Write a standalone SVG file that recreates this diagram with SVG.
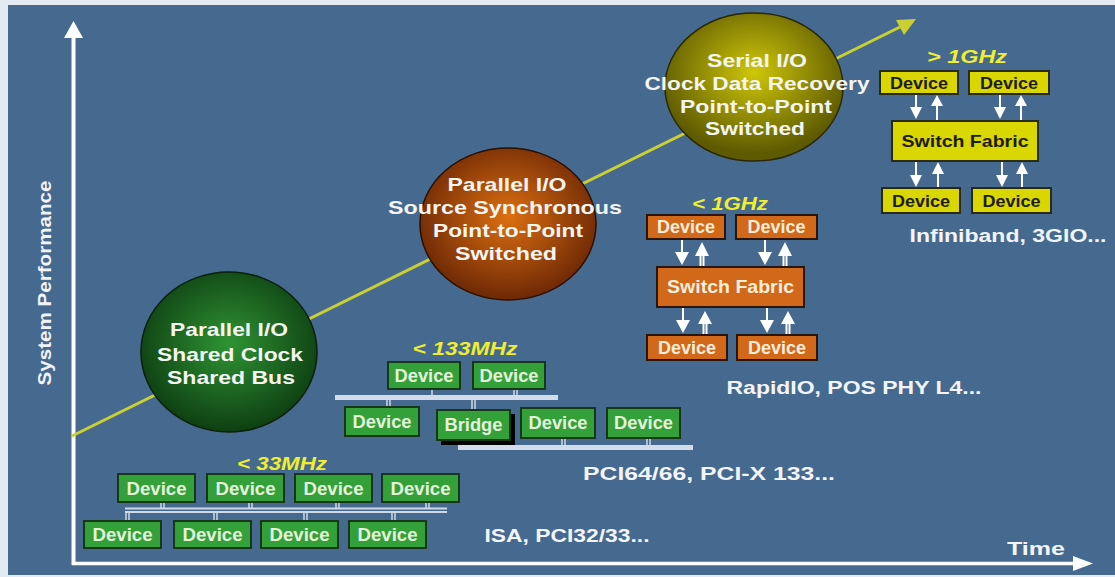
<svg xmlns="http://www.w3.org/2000/svg" width="1115" height="577" viewBox="0 0 1115 577">
<defs>
<radialGradient id="gGreen" cx="0.5" cy="0.45" r="0.55">
<stop offset="0" stop-color="#2f9434"/><stop offset="1" stop-color="#0e3f12"/>
</radialGradient>
<radialGradient id="gOrange" cx="0.5" cy="0.45" r="0.55">
<stop offset="0" stop-color="#dc6f12"/><stop offset="1" stop-color="#6e2805"/>
</radialGradient>
<radialGradient id="gOlive" cx="0.5" cy="0.4" r="0.55">
<stop offset="0" stop-color="#cfc70a"/><stop offset="1" stop-color="#5e5a02"/>
</radialGradient>
<style>
.t{font-family:"Liberation Sans",Arial,sans-serif;font-weight:bold;text-anchor:middle}
.ct{font-size:19px;fill:#f4f4f0}
.lab{font-size:18px;fill:#f2f4f8}
.mhz{font-size:18px;fill:#f0ee30;font-style:italic}
.gb{fill:#33a03a;stroke:#163816;stroke-width:2}
.ob{fill:#d2691a;stroke:#2a1505;stroke-width:2}
.yb{fill:#dad600;stroke:#2a2a10;stroke-width:2}
.gt{font-size:18px;fill:#e4f2dc}
.ot{font-size:17.5px;fill:#fbeedc}
.yt{font-size:17px;fill:#1c1c10}
.bus{fill:none;stroke:#cfd9e8;stroke-width:2}
.tick{stroke:#cfd9e8;stroke-width:1.5}
.aw{stroke:#ffffff;stroke-width:2;fill:none}
.ah{fill:#ffffff}
</style>
</defs>
<rect x="0" y="0" width="1115" height="577" fill="#e4eaf1"/>
<rect x="8" y="5" width="1107" height="570" fill="#46698f"/>

<g id="axes">
<line x1="73.5" y1="36" x2="73.5" y2="565" stroke="#ffffff" stroke-width="4"/>
<polygon points="64,38 83,38 73.5,21" fill="#ffffff"/>
<line x1="72" y1="563.5" x2="1076" y2="563.5" stroke="#ffffff" stroke-width="3.5"/>
<polygon points="1073,556 1073,571 1093,563.5" fill="#ffffff"/>
<text class="t" x="0" y="0" font-size="19" fill="#f2f4f8" transform="translate(51,283) rotate(-90)" textLength="205" lengthAdjust="spacingAndGlyphs">System Performance</text>
<text class="t" x="1036" y="555" font-size="19" fill="#f2f4f8" textLength="58" lengthAdjust="spacingAndGlyphs">Time</text>
</g>

<g id="connectors">
<line x1="72" y1="436" x2="900" y2="27" stroke="#cbcf34" stroke-width="3"/>
<polygon points="916,19 896,20 904,35" fill="#cbcf34"/>
<line class="bus" x1="125" y1="508.5" x2="447" y2="508.5"/>
<line class="bus" x1="125" y1="512" x2="447" y2="512"/>
<g class="tick">
<line x1="161" y1="502" x2="161" y2="508"/><line x1="164" y1="502" x2="164" y2="508"/>
<line x1="249" y1="502" x2="249" y2="508"/><line x1="252" y1="502" x2="252" y2="508"/>
<line x1="336" y1="502" x2="336" y2="508"/><line x1="339" y1="502" x2="339" y2="508"/>
<line x1="426" y1="502" x2="426" y2="508"/><line x1="429" y1="502" x2="429" y2="508"/>
<line x1="126" y1="512" x2="126" y2="521"/><line x1="129" y1="512" x2="129" y2="521"/>
<line x1="214" y1="512" x2="214" y2="521"/><line x1="217" y1="512" x2="217" y2="521"/>
<line x1="304" y1="512" x2="304" y2="521"/><line x1="307" y1="512" x2="307" y2="521"/>
<line x1="392" y1="512" x2="392" y2="521"/><line x1="395" y1="512" x2="395" y2="521"/>
</g>
<rect x="335" y="395" width="223" height="5" fill="#d3dcea"/>
<rect x="458" y="445" width="235" height="5" fill="#d3dcea"/>
<g class="tick">
<line x1="432" y1="389" x2="432" y2="395"/>
<line x1="514" y1="389" x2="514" y2="395"/><line x1="517" y1="389" x2="517" y2="395"/>
<line x1="387" y1="400" x2="387" y2="407"/><line x1="390" y1="400" x2="390" y2="407"/>
<line x1="472" y1="400" x2="472" y2="410"/><line x1="475" y1="400" x2="475" y2="410"/>
<line x1="468" y1="440" x2="468" y2="445"/>
<line x1="562" y1="438" x2="562" y2="445"/><line x1="565" y1="438" x2="565" y2="445"/>
<line x1="647" y1="438" x2="647" y2="445"/><line x1="650" y1="438" x2="650" y2="445"/>
</g>
<g>
<line class="aw" x1="682" y1="239" x2="682" y2="253"/><polygon class="ah" points="675,252 689,252 682,265"/>
<line class="aw" x1="700.5" y1="255" x2="700.5" y2="267" stroke-width="1.5"/><line class="aw" x1="703.5" y1="255" x2="703.5" y2="267" stroke-width="1.5"/><polygon class="ah" points="695,256 709,256 702,242"/>
<line class="aw" x1="765" y1="239" x2="765" y2="253"/><polygon class="ah" points="758,252 772,252 765,265"/>
<line class="aw" x1="783.5" y1="255" x2="783.5" y2="267" stroke-width="1.5"/><line class="aw" x1="786.5" y1="255" x2="786.5" y2="267" stroke-width="1.5"/><polygon class="ah" points="778,256 792,256 785,242"/>
<line class="aw" x1="683" y1="307" x2="683" y2="321"/><polygon class="ah" points="676,320 690,320 683,333"/>
<line class="aw" x1="703.5" y1="323" x2="703.5" y2="335" stroke-width="1.5"/><line class="aw" x1="706.5" y1="323" x2="706.5" y2="335" stroke-width="1.5"/><polygon class="ah" points="698,324 712,324 705,311"/>
<line class="aw" x1="767" y1="307" x2="767" y2="321"/><polygon class="ah" points="760,320 774,320 767,333"/>
<line class="aw" x1="786.5" y1="323" x2="786.5" y2="335" stroke-width="1.5"/><line class="aw" x1="789.5" y1="323" x2="789.5" y2="335" stroke-width="1.5"/><polygon class="ah" points="781,324 795,324 788,311"/>
</g>
<g>
<line class="aw" x1="916" y1="94" x2="916" y2="108" stroke-width="1.5"/><polygon class="ah" points="910,107 922,107 916,119"/>
<line class="aw" x1="937" y1="105" x2="937" y2="121" stroke-width="1.5"/><polygon class="ah" points="931,106 943,106 937,95"/>
<line class="aw" x1="1000" y1="94" x2="1000" y2="108" stroke-width="1.5"/><polygon class="ah" points="994,107 1006,107 1000,119"/>
<line class="aw" x1="1021" y1="105" x2="1021" y2="121" stroke-width="1.5"/><polygon class="ah" points="1015,106 1027,106 1021,95"/>
<line class="aw" x1="916" y1="161" x2="916" y2="176" stroke-width="1.5"/><polygon class="ah" points="910,175 922,175 916,187"/>
<line class="aw" x1="938" y1="173" x2="938" y2="188" stroke-width="1.5"/><polygon class="ah" points="932,174 944,174 938,162"/>
<line class="aw" x1="1002" y1="161" x2="1002" y2="176" stroke-width="1.5"/><polygon class="ah" points="996,175 1008,175 1002,187"/>
<line class="aw" x1="1022" y1="173" x2="1022" y2="188" stroke-width="1.5"/><polygon class="ah" points="1016,174 1028,174 1022,162"/>
</g>
</g>

<g id="circle-green">
<ellipse cx="229" cy="352" rx="88" ry="80" fill="url(#gGreen)" stroke="#0a200a" stroke-width="1.5"/>
<text class="t ct" x="229" y="336" textLength="118" lengthAdjust="spacingAndGlyphs">Parallel I/O</text>
<text class="t ct" x="230" y="361" textLength="146" lengthAdjust="spacingAndGlyphs">Shared Clock</text>
<text class="t ct" x="231" y="384" textLength="128" lengthAdjust="spacingAndGlyphs">Shared Bus</text>
</g>

<g id="circle-orange">
<ellipse cx="508" cy="224" rx="88" ry="76" fill="url(#gOrange)" stroke="#2a1000" stroke-width="1.5"/>
<text class="t ct" x="507" y="191" textLength="119" lengthAdjust="spacingAndGlyphs">Parallel I/O</text>
<text class="t ct" x="505" y="214" textLength="234" lengthAdjust="spacingAndGlyphs">Source Synchronous</text>
<text class="t ct" x="508" y="237" textLength="150" lengthAdjust="spacingAndGlyphs">Point-to-Point</text>
<text class="t ct" x="506" y="260" textLength="102" lengthAdjust="spacingAndGlyphs">Switched</text>
</g>

<g id="circle-olive">
<ellipse cx="754" cy="87" rx="89" ry="74" fill="url(#gOlive)" stroke="#2a2800" stroke-width="1.5"/>
<text class="t ct" x="757" y="67" textLength="100" lengthAdjust="spacingAndGlyphs">Serial I/O</text>
<text class="t ct" x="757" y="90" textLength="225" lengthAdjust="spacingAndGlyphs">Clock Data Recovery</text>
<text class="t ct" x="756" y="113" textLength="152" lengthAdjust="spacingAndGlyphs">Point-to-Point</text>
<text class="t ct" x="755" y="135" textLength="100" lengthAdjust="spacingAndGlyphs">Switched</text>
</g>

<g id="cluster-33mhz">
<text class="t mhz" x="282" y="470" textLength="90" lengthAdjust="spacingAndGlyphs">&lt; 33MHz</text>
<rect class="gb" x="118" y="474" width="77" height="28"/><text class="t gt" x="156.5" y="494.5" textLength="60" lengthAdjust="spacingAndGlyphs">Device</text>
<rect class="gb" x="207" y="474" width="77" height="28"/><text class="t gt" x="245.5" y="494.5" textLength="60" lengthAdjust="spacingAndGlyphs">Device</text>
<rect class="gb" x="295" y="474" width="77" height="28"/><text class="t gt" x="333.5" y="494.5" textLength="60" lengthAdjust="spacingAndGlyphs">Device</text>
<rect class="gb" x="382" y="474" width="77" height="28"/><text class="t gt" x="420.5" y="494.5" textLength="60" lengthAdjust="spacingAndGlyphs">Device</text>
<rect class="gb" x="84" y="521" width="77" height="27"/><text class="t gt" x="122.5" y="541" textLength="60" lengthAdjust="spacingAndGlyphs">Device</text>
<rect class="gb" x="174" y="521" width="77" height="27"/><text class="t gt" x="212.5" y="541" textLength="60" lengthAdjust="spacingAndGlyphs">Device</text>
<rect class="gb" x="261" y="521" width="77" height="27"/><text class="t gt" x="299.5" y="541" textLength="60" lengthAdjust="spacingAndGlyphs">Device</text>
<rect class="gb" x="349" y="521" width="77" height="27"/><text class="t gt" x="387.5" y="541" textLength="60" lengthAdjust="spacingAndGlyphs">Device</text>
<text class="t lab" x="567" y="542" textLength="165" lengthAdjust="spacingAndGlyphs">ISA, PCI32/33...</text>
</g>

<g id="cluster-133mhz">
<text class="t mhz" x="465" y="355" textLength="105" lengthAdjust="spacingAndGlyphs">&lt; 133MHz</text>
<rect class="gb" x="388" y="362" width="72" height="27"/><text class="t gt" x="424" y="382" textLength="59" lengthAdjust="spacingAndGlyphs">Device</text>
<rect class="gb" x="473" y="362" width="72" height="27"/><text class="t gt" x="509" y="382" textLength="59" lengthAdjust="spacingAndGlyphs">Device</text>
<rect class="gb" x="345" y="407" width="74" height="29"/><text class="t gt" x="382" y="428" textLength="59" lengthAdjust="spacingAndGlyphs">Device</text>
<rect x="441" y="414" width="74" height="31" fill="#000000"/>
<rect class="gb" x="437" y="410" width="73" height="30"/><text class="t gt" x="473.5" y="431" fill="#f4f8f0" textLength="58" lengthAdjust="spacingAndGlyphs">Bridge</text>
<rect class="gb" x="521" y="408" width="74" height="30"/><text class="t gt" x="558" y="429" textLength="59" lengthAdjust="spacingAndGlyphs">Device</text>
<rect class="gb" x="607" y="408" width="73" height="30"/><text class="t gt" x="643.5" y="429" textLength="59" lengthAdjust="spacingAndGlyphs">Device</text>
<text class="t lab" x="709" y="480" textLength="252" lengthAdjust="spacingAndGlyphs">PCI64/66, PCI-X 133...</text>
</g>

<g id="cluster-1ghz">
<text class="t mhz" x="730" y="210" textLength="76" lengthAdjust="spacingAndGlyphs">&lt; 1GHz</text>
<rect class="ob" x="647" y="215" width="78" height="24"/><text class="t ot" x="686" y="233" textLength="58" lengthAdjust="spacingAndGlyphs">Device</text>
<rect class="ob" x="736" y="215" width="81" height="24"/><text class="t ot" x="776.5" y="233" textLength="58" lengthAdjust="spacingAndGlyphs">Device</text>
<rect class="ob" x="657" y="267" width="147" height="40"/><text class="t ot" x="730.5" y="293" textLength="127" lengthAdjust="spacingAndGlyphs">Switch Fabric</text>
<rect class="ob" x="647" y="335" width="80" height="25"/><text class="t ot" x="687" y="354" textLength="58" lengthAdjust="spacingAndGlyphs">Device</text>
<rect class="ob" x="737" y="335" width="80" height="25"/><text class="t ot" x="777" y="354" textLength="58" lengthAdjust="spacingAndGlyphs">Device</text>
<text class="t lab" x="854" y="394" textLength="255" lengthAdjust="spacingAndGlyphs">RapidIO, POS PHY L4...</text>
</g>

<g id="cluster-gt1ghz">
<text class="t mhz" x="967" y="63" textLength="80" lengthAdjust="spacingAndGlyphs">&gt; 1GHz</text>
<rect class="yb" x="880" y="71" width="78" height="23"/><text class="t yt" x="919" y="88.5" textLength="58" lengthAdjust="spacingAndGlyphs">Device</text>
<rect class="yb" x="969" y="71" width="80" height="23"/><text class="t yt" x="1009" y="88.5" textLength="58" lengthAdjust="spacingAndGlyphs">Device</text>
<rect class="yb" x="892" y="121" width="146" height="40"/><text class="t yt" x="965" y="147" textLength="127" lengthAdjust="spacingAndGlyphs">Switch Fabric</text>
<rect class="yb" x="882" y="188" width="78" height="25"/><text class="t yt" x="921" y="206.5" textLength="58" lengthAdjust="spacingAndGlyphs">Device</text>
<rect class="yb" x="972" y="188" width="79" height="25"/><text class="t yt" x="1011.5" y="206.5" textLength="58" lengthAdjust="spacingAndGlyphs">Device</text>
<text class="t lab" x="1008" y="242" textLength="197" lengthAdjust="spacingAndGlyphs">Infiniband, 3GIO...</text>
</g>
</svg>
